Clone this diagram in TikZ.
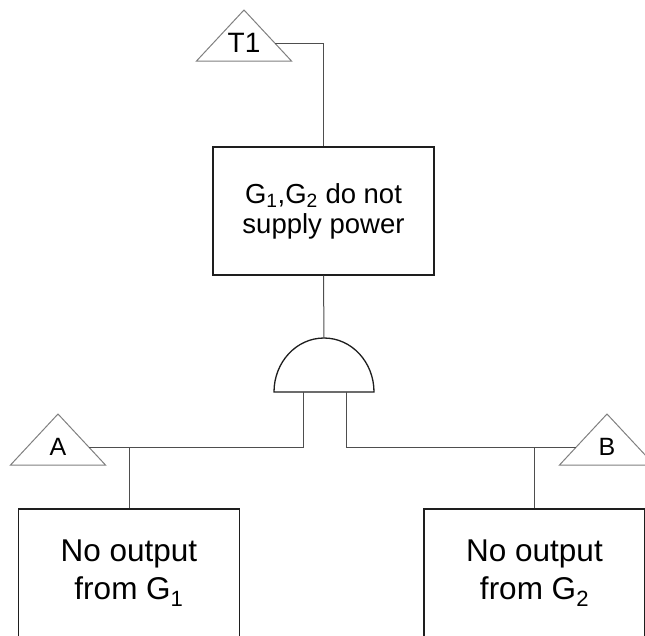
\documentclass[tikz,border=0pt]{standalone}
\usepackage{fontspec}
\setmainfont{Liberation Sans}
\usetikzlibrary{calc}
\newcommand{\Unit}{1pt}
\newcommand{\Edge}{1.3pt}
\newcommand{\Wire}{1.0pt}
\newcommand{\TriHalf}{47.5}
\newcommand{\TriH}{51}
\newcommand{\TapDrop}{33}
\definecolor{ink}{HTML}{1E1E1E}
\definecolor{wire}{HTML}{4E4E4E}
\definecolor{tri}{HTML}{808080}

\tikzset{
  event/.style={draw=ink, line width=\Edge, fill=white, align=center,
    minimum width=221pt, minimum height=128pt, inner sep=0pt},
  topfont/.style={font=\fontsize{27.5}{30}\selectfont},
  basefont/.style={font=\fontsize{31.5}{38}\selectfont},
  wireline/.style={draw=wire, line width=\Wire},
}

\begin{document}
\begin{tikzpicture}[x=\Unit,y=-\Unit, line join=miter]

  % ---- frame: the page is exactly the reference's 645 x 635 -------------
  \useasboundingbox (0,0) rectangle (645,635);

  % ---- events ---------------------------------------------------------------
  \node[event, topfont]  (top) at (323.5,211) {G\textsubscript{1},G\textsubscript{2} do not\\supply power};
  \node[event, basefont] (g1)  at (129,573)   {No output\\from G\textsubscript{1}};
  \node[event, basefont] (g2)  at (534.5,573) {No output\\from G\textsubscript{2}};

  % ---- transfer triangles ---------------------------------------------------
  % Apex given; the tap points sit \TapDrop below it on the slanted edges.
  \foreach \n/\x/\y/\s in {T1/244/10/28, A/58/414/25, B/607/414/25} {
    \coordinate (\n) at (\x,\y);
    \draw[tri, line width=1pt, fill=white] (\n) -- ++(\TriHalf,\TriH) -- ++(-2*\TriHalf,0) -- cycle;
    \node[font=\fontsize{\s}{\s}\selectfont, inner sep=0pt] (\n-label) at ($(\n)+(0,33)$) {\n};
    \coordinate (\n-r) at ($(\n)+({\TriHalf*\TapDrop/\TriH},\TapDrop)$);
    \coordinate (\n-l) at ($(\n)+({-\TriHalf*\TapDrop/\TriH},\TapDrop)$);
  }

  % ---- AND gate ---------------------------------------------------------------
  \coordinate (gate) at (324,392);
  \draw[ink, line width=\Edge, fill=white] ($(gate)+(-50,0)$)
    arc[start angle=180, end angle=360, x radius=50, y radius=54] -- cycle;
  \coordinate (gate-top) at ($(gate)+(0,-54)$);
  \coordinate (gin-l) at ($(gate)+(-21,0)$);
  \coordinate (gin-r) at ($(gate)+(22,0)$);

  % ---- connectors -------------------------------------------------------------
  \draw[wireline] (T1-r) -| (top.north);
  \draw[wireline] (top.south) -- (gate-top);
  \draw[wireline] (gin-l) |- (A-r);
  \draw[wireline] (gin-r) |- (B-l);
  \draw[wireline] (g1.north) -- (g1.north |- A-r);
  \draw[wireline] (g2.north) -- (g2.north |- B-l);

\end{tikzpicture}
\end{document}
